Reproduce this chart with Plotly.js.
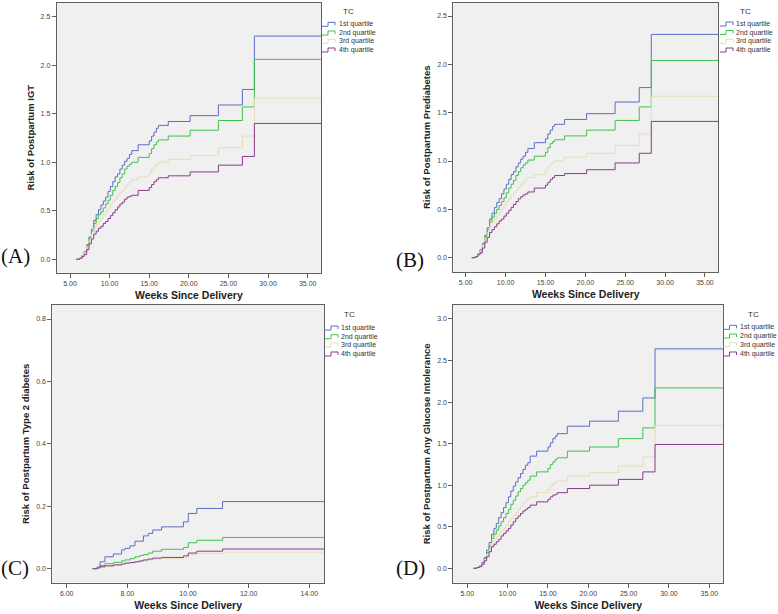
<!DOCTYPE html>
<html>
<head>
<meta charset="utf-8">
<script src="https://cdn.plot.ly/plotly-3.0.1.min.js"></script>
<style>html,body{margin:0;padding:0;background:#fff;}#chart{width:778px;height:614px;}</style>
</head>
<body>
<div id="chart"></div>
<script>
// ---------- DATA ----------
const quartiles = ["1st quartile", "2nd quartile", "3rd quartile", "4th quartile"];
const panelLetters = ["(A)", "(B)", "(C)", "(D)"];
const yTitles = ["Risk of Postpartum IGT", "Risk of Postpartum Prediabetes",
                 "Risk of Postpartum Type 2 diabetes", "Risk of Postpartum Any Glucose Intolerance"];
const xTitle = "Weeks Since Delivery";
const legendTitle = "TC";

// weeks grid for panels A, B, D
const weeksLong = [5.76, 6.2, 6.5, 6.8, 7.1, 7.4, 7.7, 8.0, 8.3, 8.6, 8.9, 9.2, 9.5, 9.8, 10.1, 10.4,
  10.7, 11.0, 11.3, 11.6, 11.9, 12.2, 12.5, 12.8, 13.6, 15.0, 15.3, 15.6, 15.9, 16.15, 17.4, 20.16,
  23.73, 26.76, 28.27, 36.68];
// weeks grid for panel C
const weeksShort = [6.85, 7.0, 7.1, 7.26, 7.54, 7.81, 7.92, 8.09, 8.25, 8.4, 8.53, 8.69, 8.84, 9.13,
  9.85, 10.01, 10.29, 11.14, 14.48];

// Panel A: IGT
const igtQ1 = [0, 0.01, 0.04, 0.08, 0.15, 0.23, 0.31, 0.40, 0.46, 0.51, 0.56, 0.60, 0.64, 0.70, 0.75, 0.80, 0.85, 0.88, 0.93, 0.97, 1.01, 1.04, 1.08, 1.12, 1.18, 1.22, 1.27, 1.31, 1.35, 1.38, 1.42, 1.48, 1.59, 1.75, 2.30, 2.30];
const igtQ2 = [0, 0.01, 0.04, 0.08, 0.14, 0.22, 0.29, 0.37, 0.42, 0.46, 0.49, 0.53, 0.57, 0.61, 0.66, 0.71, 0.75, 0.79, 0.84, 0.88, 0.93, 0.96, 0.98, 1.00, 1.05, 1.09, 1.14, 1.18, 1.21, 1.23, 1.27, 1.33, 1.43, 1.57, 2.06, 2.06];
const igtQ3 = [0, 0.01, 0.04, 0.07, 0.13, 0.20, 0.26, 0.32, 0.36, 0.39, 0.42, 0.46, 0.49, 0.53, 0.57, 0.60, 0.62, 0.66, 0.69, 0.71, 0.74, 0.77, 0.80, 0.82, 0.85, 0.89, 0.93, 0.96, 0.98, 1.00, 1.03, 1.07, 1.15, 1.27, 1.66, 1.66];
const igtQ4 = [0, 0.01, 0.03, 0.05, 0.10, 0.16, 0.21, 0.26, 0.29, 0.32, 0.34, 0.37, 0.39, 0.42, 0.45, 0.48, 0.51, 0.54, 0.57, 0.59, 0.62, 0.64, 0.65, 0.66, 0.71, 0.74, 0.77, 0.80, 0.82, 0.84, 0.86, 0.90, 0.97, 1.06, 1.40, 1.40];

// Panel B: Prediabetes
const preQ1 = [0, 0.01, 0.04, 0.08, 0.15, 0.23, 0.31, 0.40, 0.46, 0.52, 0.57, 0.61, 0.66, 0.71, 0.76, 0.81, 0.86, 0.89, 0.94, 0.98, 1.02, 1.05, 1.09, 1.13, 1.19, 1.23, 1.28, 1.32, 1.36, 1.38, 1.43, 1.49, 1.61, 1.76, 2.31, 2.31];
const preQ2 = [0, 0.01, 0.04, 0.08, 0.14, 0.22, 0.29, 0.37, 0.42, 0.46, 0.50, 0.54, 0.58, 0.62, 0.67, 0.72, 0.76, 0.80, 0.85, 0.89, 0.93, 0.96, 0.98, 1.01, 1.05, 1.09, 1.14, 1.18, 1.20, 1.22, 1.26, 1.32, 1.42, 1.56, 2.04, 2.04];
const preQ3 = [0, 0.01, 0.04, 0.07, 0.13, 0.20, 0.26, 0.32, 0.36, 0.40, 0.43, 0.47, 0.50, 0.54, 0.58, 0.61, 0.64, 0.67, 0.70, 0.73, 0.76, 0.78, 0.81, 0.83, 0.86, 0.90, 0.94, 0.97, 0.99, 1.00, 1.04, 1.08, 1.16, 1.28, 1.67, 1.67];
const preQ4 = [0, 0.01, 0.03, 0.05, 0.10, 0.16, 0.21, 0.26, 0.29, 0.32, 0.35, 0.38, 0.40, 0.43, 0.46, 0.49, 0.52, 0.55, 0.58, 0.61, 0.63, 0.65, 0.66, 0.68, 0.72, 0.75, 0.78, 0.81, 0.83, 0.85, 0.87, 0.91, 0.98, 1.08, 1.41, 1.41];

// Panel C: Type 2 diabetes
const t2dQ1 = [0, 0.005, 0.022, 0.038, 0.047, 0.060, 0.065, 0.073, 0.088, 0.088, 0.105, 0.113, 0.124, 0.134, 0.150, 0.177, 0.193, 0.215, 0.215];
const t2dQ2 = [0, 0.004, 0.010, 0.016, 0.020, 0.025, 0.028, 0.032, 0.038, 0.042, 0.045, 0.050, 0.056, 0.062, 0.068, 0.083, 0.091, 0.100, 0.100];
const t2dQ3 = [0, 0.002, 0.005, 0.008, 0.011, 0.014, 0.016, 0.018, 0.020, 0.023, 0.025, 0.028, 0.030, 0.032, 0.036, 0.045, 0.049, 0.053, 0.053];
const t2dQ4 = [0, 0.002, 0.006, 0.009, 0.012, 0.015, 0.018, 0.020, 0.022, 0.025, 0.028, 0.031, 0.034, 0.036, 0.041, 0.050, 0.056, 0.063, 0.063];

// Panel D: Any glucose intolerance
const anyQ1 = [0, 0.01, 0.03, 0.07, 0.13, 0.22, 0.31, 0.41, 0.48, 0.54, 0.61, 0.67, 0.73, 0.79, 0.86, 0.93, 0.99, 1.04, 1.09, 1.14, 1.19, 1.24, 1.27, 1.35, 1.41, 1.46, 1.51, 1.56, 1.59, 1.62, 1.71, 1.77, 1.89, 2.05, 2.64, 2.64];
const anyQ2 = [0, 0.01, 0.03, 0.06, 0.12, 0.19, 0.27, 0.36, 0.41, 0.46, 0.51, 0.56, 0.61, 0.66, 0.71, 0.77, 0.82, 0.87, 0.92, 0.96, 1.00, 1.03, 1.06, 1.11, 1.16, 1.20, 1.25, 1.28, 1.31, 1.33, 1.41, 1.46, 1.56, 1.69, 2.17, 2.17];
const anyQ3 = [0, 0.01, 0.03, 0.06, 0.11, 0.17, 0.23, 0.30, 0.34, 0.38, 0.41, 0.45, 0.48, 0.52, 0.56, 0.60, 0.64, 0.67, 0.71, 0.74, 0.78, 0.81, 0.84, 0.86, 0.91, 0.95, 0.99, 1.02, 1.04, 1.05, 1.11, 1.15, 1.23, 1.34, 1.72, 1.72];
const anyQ4 = [0, 0.01, 0.02, 0.05, 0.09, 0.14, 0.20, 0.26, 0.29, 0.32, 0.35, 0.39, 0.42, 0.45, 0.48, 0.52, 0.56, 0.60, 0.63, 0.66, 0.69, 0.71, 0.73, 0.76, 0.80, 0.83, 0.86, 0.88, 0.89, 0.91, 0.96, 1.00, 1.07, 1.16, 1.49, 1.49];

// ---------- STYLE ----------
const W = 778, H = 614;
const colors = ["#5d6ec6", "#3fc24e", "#e4dfb4", "#8a3a8c"];
const fx = p => p / W;          // pixel -> paper x
const fy = p => 1 - p / H;      // pixel -> paper y

const panels = [
  { weeks: weeksLong,  series: [igtQ1, igtQ2, igtQ3, igtQ4],
    box: [56.7, 321, 2.7, 272.7], xr: [3.32, 36.68], yr: [-0.138, 2.644], dx: 5, dy: 0.5,
    label: [15.5, 256], leg: { sym: 322, text: 336.5, tc: [348, 11], ys: [24.3, 33, 41.3, 50] } },
  { weeks: weeksLong,  series: [preQ1, preQ2, preQ3, preQ4],
    box: [453.3, 718.3, 2.7, 271.7], xr: [3.45, 36.67], yr: [-0.145, 2.638], dx: 5, dy: 0.5,
    label: [410, 259.5], leg: { sym: 720, text: 733.5, tc: [745, 11], ys: [24, 32.5, 41.3, 50] } },
  { weeks: weeksShort, series: [t2dQ1, t2dQ2, t2dQ3, t2dQ4],
    box: [52.3, 324, 305, 582.7], xr: [5.525, 14.485], yr: [-0.045, 0.845], dx: 2, dy: 0.2,
    label: [15, 567.5], leg: { sym: 325, text: 339, tc: [349, 314], ys: [328, 336.7, 345, 354] } },
  { weeks: weeksLong,  series: [anyQ1, anyQ2, anyQ3, anyQ4],
    box: [453.3, 723.3, 305, 582.7], xr: [3.27, 36.73], yr: [-0.173, 3.168], dx: 5, dy: 0.5,
    label: [410, 567.5], leg: { sym: 723.5, text: 738, tc: [753, 314], ys: [327.3, 336, 344.7, 354] } }
];

const sans = "Liberation Sans, Arial, sans-serif";
const data = [];
const layout = {
  width: W, height: H, autosize: false,
  margin: { l: 0, r: 0, t: 0, b: 0 },
  paper_bgcolor: "#ffffff", plot_bgcolor: "#f0f0f0",
  showlegend: false,
  annotations: [], shapes: []
};

panels.forEach((p, i) => {
  const k = i === 0 ? "" : String(i + 1);
  p.series.forEach((vals, q) => {
    data.push({
      type: "scatter", mode: "lines", name: quartiles[q],
      x: p.weeks, y: vals,
      xaxis: "x" + k, yaxis: "y" + k,
      line: { shape: "hv", color: colors[q], width: 1 },
      hoverinfo: "x+y+name"
    });
  });
  const axCommon = {
    showgrid: false, zeroline: false, showline: true, mirror: true,
    linecolor: "#5f5f5f", linewidth: 1, ticks: "outside", ticklen: 4, tickcolor: "#5f5f5f",
    tickfont: { family: sans, size: 7, color: "#444" }, fixedrange: true
  };
  layout["xaxis" + k] = Object.assign({}, axCommon, {
    domain: [fx(p.box[0]), fx(p.box[1])], anchor: "y" + k,
    range: p.xr, dtick: p.dx, tick0: 0, tickformat: ".2f",
    title: { text: xTitle, standoff: 5, font: { family: sans, size: 10.5, weight: "bold", color: "#222" } }
  });
  layout["yaxis" + k] = Object.assign({}, axCommon, {
    domain: [fy(p.box[3]), fy(p.box[2])], anchor: "x" + k,
    range: p.yr, dtick: p.dy, tick0: 0, tickformat: ".1f",
    title: { text: yTitles[i], standoff: 4, font: { family: sans, size: 9.5, weight: "bold", color: "#222" } }
  });
  // panel letter
  layout.annotations.push({
    xref: "paper", yref: "paper", x: fx(p.label[0]), y: fy(p.label[1]),
    xanchor: "center", yanchor: "middle", showarrow: false, text: panelLetters[i],
    font: { family: "Liberation Serif, Times New Roman, serif", size: 21, color: "#111" }
  });
  // legend (SPSS style)
  layout.annotations.push({
    xref: "paper", yref: "paper", x: fx(p.leg.tc[0]), y: fy(p.leg.tc[1]),
    xanchor: "center", yanchor: "middle", showarrow: false, text: legendTitle,
    font: { family: sans, size: 8, color: "#333" }
  });
  quartiles.forEach((qn, q) => {
    const yc = p.leg.ys[q];
    layout.annotations.push({
      xref: "paper", yref: "paper", x: fx(p.leg.text), y: fy(yc),
      xanchor: "left", yanchor: "middle", showarrow: false, text: qn,
      font: { family: sans, size: 7, color: "#333" }
    });
    const s = p.leg.sym;
    const path = "M" + fx(s) + "," + fy(yc + 2) + " L" + fx(s + 6) + "," + fy(yc + 2) +
      " L" + fx(s + 6) + "," + fy(yc - 2) + " L" + fx(s + 13) + "," + fy(yc - 2) +
      " L" + fx(s + 13) + "," + fy(yc + 1);
    layout.shapes.push({ type: "path", xref: "paper", yref: "paper", path: path,
      line: { color: colors[q], width: 1 } });
  });
});

Plotly.newPlot("chart", data, layout, { displayModeBar: false, staticPlot: true });
</script>
</body>
</html>
